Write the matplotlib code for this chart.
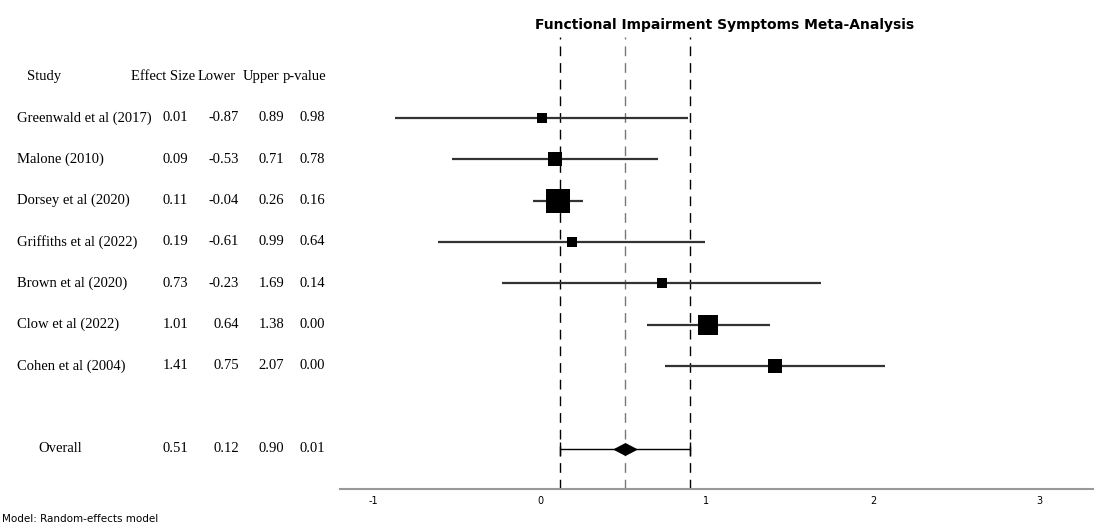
import matplotlib
matplotlib.use("Agg")
import matplotlib.pyplot as plt
from matplotlib.transforms import blended_transform_factory

# ---------------------------------------------------------------- DATA -------
studies = ["Greenwald et al (2017)", "Malone (2010)", "Dorsey et al (2020)",
           "Griffiths et al (2022)", "Brown et al (2020)", "Clow et al (2022)",
           "Cohen et al (2004)"]
effect = [0.01, 0.09, 0.11, 0.19, 0.73, 1.01, 1.41]
lower = [-0.87, -0.53, -0.04, -0.61, -0.23, 0.64, 0.75]
upper = [0.89, 0.71, 0.26, 0.99, 1.69, 1.38, 2.07]
pvals = [0.98, 0.78, 0.16, 0.64, 0.14, 0.00, 0.00]
weights = [6.3, 12.4, 33.4, 7.6, 5.1, 22.8, 12.4]   # % (box area)

overall = {"label": "Overall", "effect": 0.51, "lower": 0.12, "upper": 0.90, "p": 0.01}
headers = ["Effect Size", "Lower", "Upper", "p-value"]
xticks = [-1, 0, 1, 2, 3]

TITLE = "Functional Impairment Symptoms Meta-Analysis"
FOOTER = "Model: Random-effects model"

W, H = 1107, 527
SERIF = "Liberation Serif"

fig = plt.figure(figsize=(W / 100, H / 100), dpi=100)
ax = fig.add_axes([340 / W, 1 - 489 / H, (1093 - 340) / W, (489 - 37) / H])

rows = list(range(len(studies)))
y_overall = len(studies) + 1

# reference lines: overall estimate and its CI
for xv, col in [(overall["lower"], "black"), (overall["effect"], "#777777"),
                (overall["upper"], "black")]:
    ax.axvline(xv, color=col, lw=1.0, ls=(0, (7, 5)), zorder=1)

# study CIs and boxes
for y, e, lo, hi, w in zip(rows, effect, lower, upper, weights):
    ax.plot([lo, hi], [y, y], color="#333333", lw=1.6, solid_capstyle="butt", zorder=2)
    ax.plot([e], [y], marker="s", ms=2.87 * w ** 0.5, color="black",
            mew=0, zorder=3)

# overall
ax.errorbar([overall["effect"]], [y_overall],
            xerr=[[overall["effect"] - overall["lower"]],
                  [overall["upper"] - overall["effect"]]],
            fmt="none", ecolor="black", elinewidth=1.0, capsize=5, capthick=1.0,
            zorder=2)
ax.plot([overall["effect"]], [y_overall],
        marker=[(-1, 0), (0, 0.52), (1, 0), (0, -0.52)], ms=18, color="black",
        mew=0, zorder=3)

ax.set_xlim(-1.201, 3.321)
ax.set_ylim(8.98, -1.96)
ax.set_xticks(xticks)
ax.set_xticklabels([str(t) for t in xticks])
ax.set_yticks([])
ax.tick_params(axis="x", length=0, labelsize=7, pad=5)
for s in ["top", "right", "left"]:
    ax.spines[s].set_visible(False)
ax.spines["bottom"].set_color("#999999")
ax.spines["bottom"].set_linewidth(1.5)

# table on the left
tr = blended_transform_factory(fig.transFigure, ax.transData)
col_right = [188, 239, 284, 325]
head_right = [195, 236, 279, 326]
kw = dict(transform=tr, fontfamily=SERIF, fontsize=10.5, va="center", clip_on=False)

ax.text(27 / W, -1, "Study", ha="left", **kw)
for x, h in zip(head_right, headers):
    ax.text(x / W, -1, h, ha="right", **kw)

for y, name, e, lo, hi, p in zip(rows, studies, effect, lower, upper, pvals):
    ax.text(17 / W, y, name, ha="left", **kw)
    for x, v in zip(col_right, [e, lo, hi, p]):
        ax.text(x / W, y, f"{v:.2f}", ha="right", **kw)

ax.text(38 / W, y_overall, overall["label"], ha="left", **kw)
for x, v in zip(col_right, [overall["effect"], overall["lower"],
                            overall["upper"], overall["p"]]):
    ax.text(x / W, y_overall, f"{v:.2f}", ha="right", **kw)

fig.text(725 / W, 1 - 25 / H, TITLE, ha="center", va="center",
         fontsize=10, fontweight="bold")
fig.text(2 / W, 1 - 519 / H, FOOTER, ha="left", va="center", fontsize=7.5)

fig.savefig("out.png", dpi=100)
